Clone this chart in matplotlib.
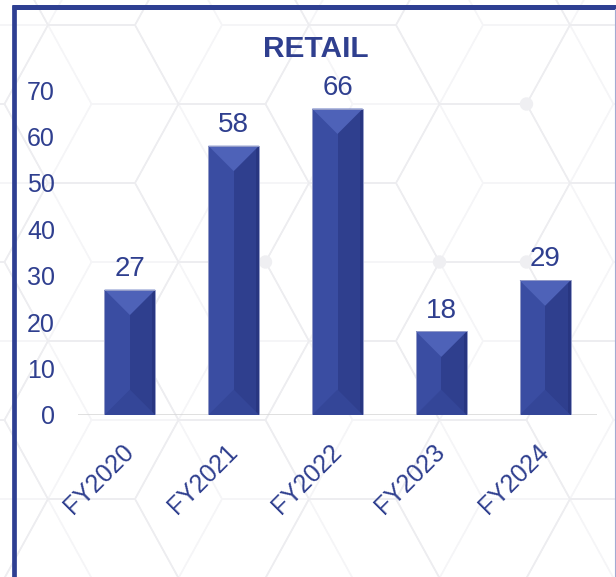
import numpy as np
import matplotlib.pyplot as plt
from matplotlib.patches import Polygon, Circle
from matplotlib.collections import LineCollection

plt.rcParams['font.family'] = ['Liberation Sans', 'DejaVu Sans']

# retail figures per fiscal year
years = ['FY2020', 'FY2021', 'FY2022', 'FY2023', 'FY2024']
retail = [27, 58, 66, 18, 29]
y_ticks = [0, 10, 20, 30, 40, 50, 60, 70]

navy = '#2F3F8F'
W, H = 616, 577
fig = plt.figure(figsize=(W / 100, H / 100), dpi=100)

# --- background: faint hexagon pattern, drawn in pixel units ---
bg = fig.add_axes([0, 0, 1, 1], zorder=-5)
bg.set_xlim(0, W)
bg.set_ylim(H, 0)
bg.axis('off')

side, half_h = 87, 79
ox, oy = 483, 183


def hex_pts(cx, cy):
    return [(cx + side, cy), (cx + side / 2, cy + half_h), (cx - side / 2, cy + half_h),
            (cx - side, cy), (cx - side / 2, cy - half_h), (cx + side / 2, cy - half_h),
            (cx + side, cy)]


main_grid, offset_grid = [], []
for c in range(-5, 6):
    for r in range(-2, 5):
        cx = ox + 1.5 * side * c
        cy = oy + 2 * half_h * r + half_h * (c % 2)
        main_grid.append(hex_pts(cx, cy))
        offset_grid.append(hex_pts(cx - side, cy))
bg.add_collection(LineCollection(offset_grid, colors='#F5F5F7', linewidths=1.0, zorder=1))
bg.add_collection(LineCollection(main_grid, colors='#EDEDF0', linewidths=1.1, zorder=1))

# small nodes sitting on a few of the vertices
for c, r, k in [(-2, -1, 5), (0, 0, 5), (-2, 0, 1), (0, 0, 1), (0, 0, 2)]:
    px, py = hex_pts(ox + 1.5 * side * c, oy + 2 * half_h * r + half_h * (c % 2))[k]
    bg.add_patch(Circle((px, py), 6, color='#EFEFF2', zorder=2))

# frame: heavy top and left rules, thin right edge
bg.plot([12, W], [6.5, 6.5], color='#2E3F92', lw=3.6, solid_capstyle='butt', zorder=5)
bg.plot([13.5, 13.5], [4.5, H], color='#2E3F92', lw=3.4, solid_capstyle='butt', zorder=5)
bg.plot([W - 1, W - 1], [9, H], color='#A3AAD2', lw=0.8, zorder=5)

# --- main bar chart ---
ax = fig.add_axes([78 / W, (H - 415) / H, (597 - 78) / W, (415 - 90) / H])
ax.set_facecolor('none')
x = np.arange(len(years))
bars = ax.bar(x, retail, width=0.49, color='#3A4DA2', lw=0, zorder=3)
ax.set_xlim(-0.5, len(years) - 0.5)
ax.set_ylim(0, 70)
ax.axhline(0, color='#D6D6D6', lw=1.8, zorder=2)

for s in ax.spines.values():
    s.set_visible(False)

ax.set_yticks(y_ticks)
ax.set_xticks(x)
ax.set_xticklabels(years, rotation=45, ha='right', va='center', rotation_mode='anchor')
ax.tick_params(axis='y', length=0, pad=16.5, labelsize=18, labelcolor=navy)
ax.tick_params(axis='x', length=0, pad=24, labelsize=18, labelcolor=navy)

# bevel shading: 45-degree facets, so depth in data units = half bar width in pixels
ax_h_px = ax.get_position().height * H
ax_w_px = ax.get_position().width * W
unit_y = 70 / ax_h_px
unit_x = len(years) / ax_w_px
for b in bars:
    x0, w, top = b.get_x(), b.get_width(), b.get_height()
    x1, xc = x0 + w, x0 + w / 2
    d = (w / 2) / unit_x * unit_y
    edge = 3 * unit_x
    ax.add_patch(Polygon([(xc, 0), (x1, 0), (x1, top), (xc, top)],
                         color='#2F3F8E', lw=0, zorder=4))
    ax.add_patch(Polygon([(x1 - edge, 0), (x1, 0), (x1, top), (x1 - edge, top)],
                         color='#283681', lw=0, zorder=4))
    ax.add_patch(Polygon([(x0, 0), (x1, 0), (xc, d)],
                         color='#344698', lw=0, zorder=5))
    ax.add_patch(Polygon([(x0, top), (x1, top), (xc, top - d)],
                         color='#4E62B8', lw=0, zorder=5))
    ax.add_patch(Polygon([(x0, 0), (x1, 0), (x1, top), (x0, top)], closed=True,
                         fill=False, edgecolor='#959DC9', lw=0.7, zorder=6))
    ax.annotate(f'{top:g}', (xc, top), xytext=(0, 10), textcoords='offset points',
                ha='center', va='baseline', fontsize=20, color=navy,
                annotation_clip=False)

fig.text(316 / W, (H - 57) / H, 'RETAIL', ha='center', va='baseline',
         fontsize=21.5, fontweight='bold', color=navy)

fig.savefig('out.png', dpi=100)
